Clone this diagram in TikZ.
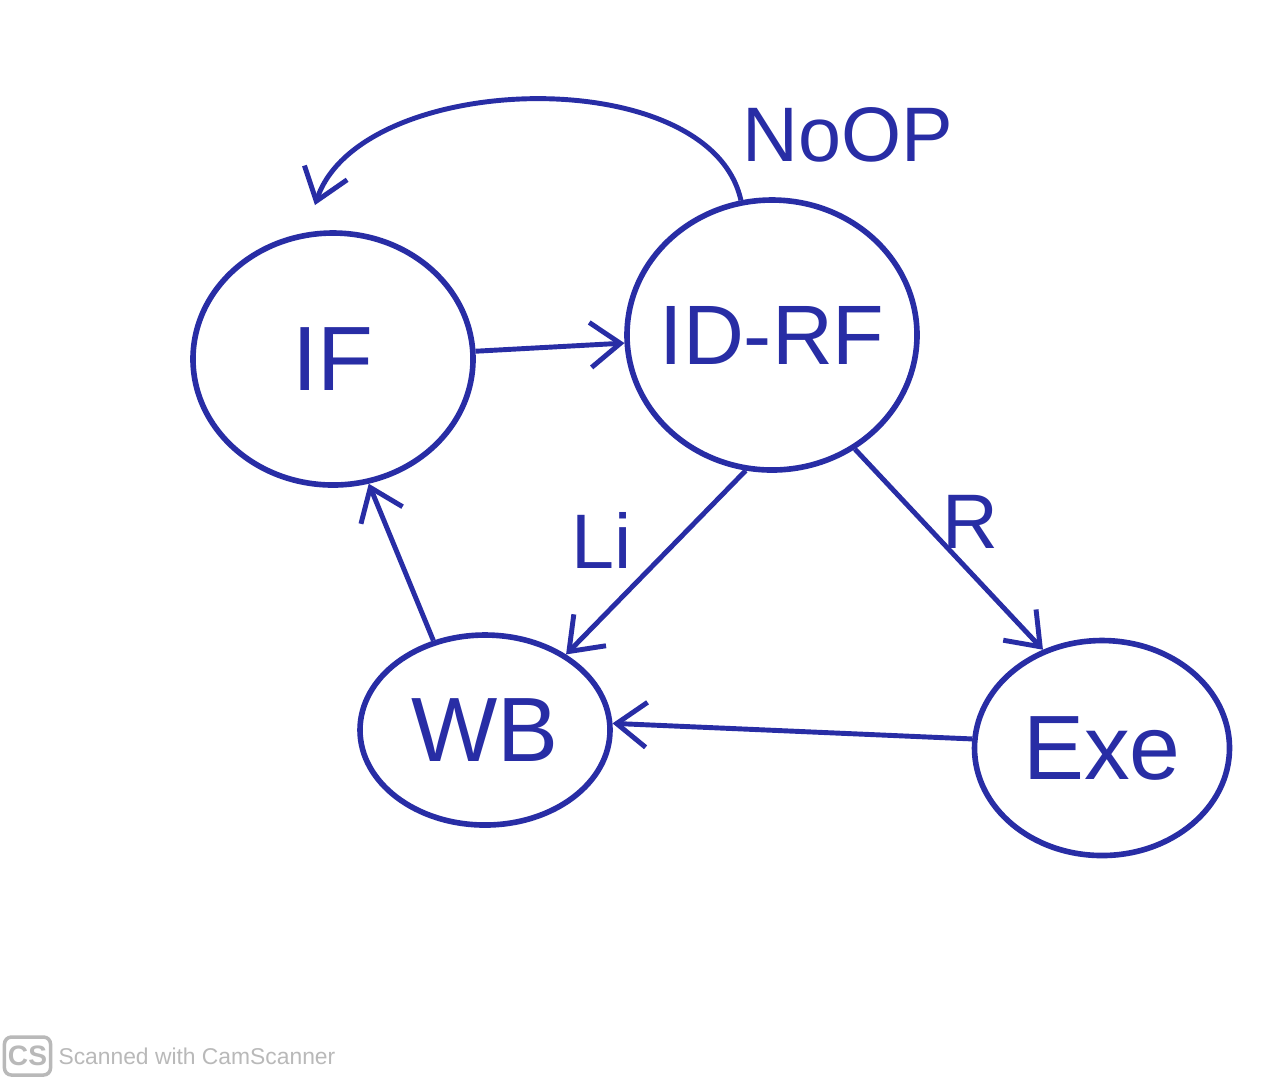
\documentclass[tikz,border=0pt]{standalone}
\usepackage{fontspec}
\setmainfont{Liberation Sans}
\usepackage{tikz}
\usetikzlibrary{arrows.meta, shapes.geometric, positioning}
\definecolor{InkBlue}{RGB}{40,45,165}
\definecolor{ScanGray}{RGB}{185,185,185}

\tikzset{
  state/.style={draw=InkBlue, ellipse, line width=1.6pt, inner sep=0pt,
    text=InkBlue, font=\fontsize{26}{28}\selectfont},
  trans/.style={draw=InkBlue, line width=1.4pt,
    -{Straight Barb[length=3mm, width=4.5mm, line width=1.4pt]}},
  edgelabel/.style={text=InkBlue, font=\fontsize{22}{24}\selectfont}
}

\begin{document}
\begin{tikzpicture}
\useasboundingbox[fill=white] (0,0) rectangle (12.8,-10.84);

\node[state, minimum width=2.8cm, minimum height=2.52cm] (if) at (3.33,-3.59) {IF};
\node[state, minimum width=2.9cm, minimum height=2.7cm, inner xsep=-0.5cm,
  font=\fontsize{24}{26}\selectfont] (idrf) at (7.72,-3.35) {ID-RF};
\node[state, minimum width=2.5cm, minimum height=1.9cm] (wb) at (4.85,-7.3) {WB};
\node[state, minimum width=2.55cm, minimum height=2.15cm] (exe) at (11.02,-7.48) {Exe};

\coordinate (noopend) at (3.15,-2.05);

\draw[trans] (if) -- (idrf);
\draw[trans] (idrf.103) .. controls (7.1,-0.6) and (3.6,-0.7) .. (noopend);
\draw[trans] (idrf.259) -- (wb.43);
\draw[trans] (idrf.306) -- (exe.121);
\draw[trans] (exe.176) -- (wb.3);
\draw[trans] (wb.120) -- (if.286);

\node[edgelabel, anchor=west, inner xsep=0pt] (nooplabel) at (7.42,-1.35) {NoOP};
\node[edgelabel] (lilabel) at (6.02,-5.4) {Li};
\node[edgelabel] (rlabel) at (9.7,-5.22) {R};

% scanner stamp
\node[draw=ScanGray, line width=1pt, rounded corners=2pt, text=ScanGray,
  minimum width=0.38cm, minimum height=0.38cm, inner sep=1pt,
  font=\bfseries\fontsize{8}{9}\selectfont] (cslogo) at (0.275,-10.56) {CS};
\node[right=0.02cm of cslogo, text=ScanGray, inner sep=1pt,
  font=\fontsize{6.5}{8}\selectfont] (scantext) {Scanned with CamScanner};
\end{tikzpicture}
\end{document}
